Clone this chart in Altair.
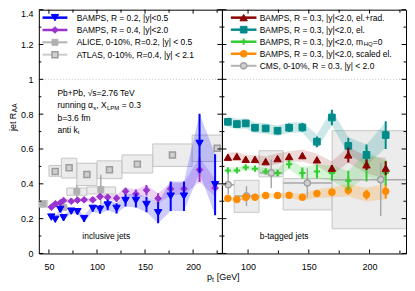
import altair as alt
import pandas as pd

# ---------------- data: inclusive jets (left panel) ----------------
incl_pt = [52.5, 56.6, 61.8, 65.2, 73.2, 79.7, 86.6, 95.6, 103.2, 111.1, 120.4,
           129.7, 140.5, 151.5, 163.6, 176.7, 190.5, 206.7, 222.9]
bamps_r02 = [0.209, 0.196, 0.253, 0.205, 0.243, 0.240, 0.200, 0.259, 0.253, 0.278, 0.259,
             0.304, 0.304, 0.281, 0.234, 0.329, 0.329, 0.632, 0.395]
bamps_r02_err = [0.010, 0.010, 0.015, 0.015, 0.015, 0.015, 0.020, 0.020, 0.025, 0.030, 0.030,
                 0.035, 0.040, 0.045, 0.060, 0.085, 0.085, 0.170, 0.175]
bamps_r04 = [0.266, 0.285, 0.291, 0.304, 0.300, 0.306, 0.308, 0.308, 0.327, 0.323, 0.317,
             0.357, 0.342, 0.363, 0.316, 0.371, 0.371, 0.481, 0.376]
bamps_r04_err = [0.010, 0.010, 0.010, 0.010, 0.010, 0.010, 0.012, 0.012, 0.015, 0.015, 0.020,
                 0.020, 0.025, 0.030, 0.030, 0.035, 0.035, 0.070, 0.050]

alice_pt = [44.0, 65.5, 79.0, 104.0]
alice_raa = [0.285, 0.265, 0.357, 0.367]
alice_err = [0.010, 0.010, 0.035, 0.085]
alice_sys_pt_lo = [40.0, 68.6, 89.3]
alice_sys_pt_hi = [48.7, 89.3, 119.4]
alice_sys_lo = [0.266, 0.334, 0.342]
alice_sys_hi = [0.304, 0.376, 0.382]

atlas_pt = [56.5, 71.0, 89.5, 113.0, 142.0, 178.5, 225.0]
atlas_raa = [0.471, 0.492, 0.454, 0.481, 0.513, 0.566, 0.604]
atlas_pt_lo = [50.0, 63.0, 79.0, 100.0, 126.0, 158.0, 199.0]
atlas_pt_hi = [63.0, 79.0, 100.0, 126.0, 158.0, 199.0, 251.0]
atlas_sys_lo = [0.443, 0.433, 0.390, 0.430, 0.462, 0.500, 0.528]
atlas_sys_hi = [0.505, 0.547, 0.518, 0.532, 0.566, 0.629, 0.680]

# ---------------- data: b-tagged jets (right panel) ----------------
b_pt = [83.4, 90.8, 98.1, 105.7, 114.5, 124.3, 133.8, 144.7, 156.7, 169.0, 182.5, 197.5, 213.3]
elrad = [0.553, 0.557, 0.541, 0.541, 0.528, 0.545, 0.557, 0.562, 0.538, 0.490, 0.566, 0.509, 0.490]
elrad_err = [0.010, 0.010, 0.010, 0.010, 0.010, 0.010, 0.012, 0.015, 0.015, 0.018, 0.043, 0.030, 0.040]
elrad_band = [0.025, 0.025, 0.025, 0.025, 0.030, 0.030, 0.030, 0.035, 0.035, 0.040, 0.045, 0.050, 0.060]
el = [0.756, 0.743, 0.747, 0.722, 0.718, 0.705, 0.722, 0.724, 0.642, 0.781, 0.618, 0.566, 0.680]
el_err = [0.020, 0.020, 0.020, 0.020, 0.020, 0.020, 0.025, 0.025, 0.030, 0.045, 0.047, 0.060, 0.080]
el_band = [0.030, 0.030, 0.030, 0.030, 0.030, 0.030, 0.030, 0.030, 0.040, 0.045, 0.050, 0.060, 0.075]
mhq0 = [0.477, 0.477, 0.494, 0.487, 0.471, 0.462, 0.513, 0.462, 0.471, 0.462, 0.418, 0.513, 0.462]
mhq0_err = [0.010, 0.010, 0.010, 0.010, 0.012, 0.015, 0.025, 0.032, 0.040, 0.045, 0.057, 0.100, 0.070]
mhq0_band = [0.015, 0.015, 0.015, 0.015, 0.020, 0.025, 0.030, 0.035, 0.040, 0.045, 0.055, 0.070, 0.070]
scaled = [0.316, 0.310, 0.323, 0.323, 0.333, 0.333, 0.334, 0.323, 0.344, 0.352, 0.363, 0.338, 0.357]
scaled_err = [0.008, 0.008, 0.008, 0.008, 0.008, 0.010, 0.010, 0.010, 0.012, 0.015, 0.024, 0.028, 0.043]
scaled_band = [0.010, 0.010, 0.010, 0.012, 0.012, 0.015, 0.015, 0.020, 0.025, 0.030, 0.035, 0.040, 0.045]

cms_pt = [83.7, 98.7, 119.1, 148.8, 209.2]
cms_raa = [0.395, 0.330, 0.462, 0.405, 0.424]
cms_stat_lo = [0.338, 0.272, 0.376, 0.320, 0.215]
cms_stat_hi = [0.462, 0.386, 0.538, 0.490, 0.520]
cms_pt_lo = [76.0, 89.0, 109.6, 128.9, 169.2]
cms_pt_hi = [88.6, 109.0, 128.6, 169.2, 250.0]
cms_sys_pt_lo = [88.6, 109.0, 128.9, 169.2]
cms_sys_pt_hi = [109.0, 128.9, 169.2, 250.0]
cms_sys_lo = [0.236, 0.440, 0.250, 0.142]
cms_sys_hi = [0.420, 0.590, 0.430, 0.705]

y_major = [0, 0.2, 0.4, 0.6, 0.8, 1.0, 1.2, 1.4]
y_minor = [0.1, 0.3, 0.5, 0.7, 0.9, 1.1, 1.3]
xl_major = [50, 100, 150, 200]
xl_minor = [75, 125, 175, 225]
xr_major = [100, 150, 200]
xr_minor = [125, 175, 225]

legend_left = ["BAMPS, R = 0.2, |y|<0.5", "BAMPS, R = 0.4, |y|<2.0",
               "ALICE, 0-10%, R=0.2, |y| < 0.5", "ATLAS, 0-10%, R=0.4, |y| < 2.1"]
legend_right = ["BAMPS, R = 0.3, |y|<2.0, el.+rad.", "BAMPS, R = 0.3, |y|<2.0, el.",
                "BAMPS, R = 0.3, |y|<2.0, m", "BAMPS, R = 0.3, |y|<2.0, scaled el.",
                "CMS, 0-10%, R = 0.3, |y| < 2.0"]

# ---------------- styling ----------------
FONT = "Liberation Sans"
H = 245
W_L = 184
W_R = 185
YS = alt.Scale(domain=[0, 1.4], nice=False, zero=False)

BLUE = "#0000ff"
PURPLE = "#9a32cd"
DRED = "#8b0000"
TEAL = "#008b8b"
GREEN = "#32cd32"
ORANGE = "#ff8c00"
GREY = "#a8a8a8"
PLUS = "M-1,0L1,0M0,-1L0,1"


def xaxis(vals):
    return alt.Axis(values=vals, format="d", title=None, ticks=False, tickSize=0, domain=False,
                    grid=False, labelPadding=9, labelFontSize=9, labelFont=FONT,
                    labelColor="black", labelFlush=False)


AY_L = alt.Axis(values=y_major, format="~g", title=None, ticks=False, tickSize=0, domain=False,
                grid=False, labelPadding=6, labelFontSize=9, labelFont=FONT, labelColor="black",
                labelBaseline={"condition": {"test": "datum.value > 1.35", "value": "top"},
                               "value": "middle"})

PL = {"xs": alt.Scale(domain=[39.5, 230], nice=False, zero=False), "ax": xaxis(xl_major),
      "ay": AY_L, "w": W_L}
PR = {"xs": alt.Scale(domain=[78.5, 230], nice=False, zero=False), "ax": xaxis(xr_major),
      "ay": None, "w": W_R}


def ex(f, P):
    return alt.X(f + ":Q", scale=P["xs"], axis=P["ax"])


def ey(f, P):
    return alt.Y(f + ":Q", scale=YS, axis=P["ay"])


def band(P, x, y, e, color, op):
    df = pd.DataFrame({"x": x, "lo": [a - b for a, b in zip(y, e)], "hi": [a + b for a, b in zip(y, e)]})
    return alt.Chart(df).mark_area(color=color, opacity=op).encode(
        x=ex("x", P), y=ey("lo", P), y2="hi:Q")


def vbars(P, x, lo, hi, color, sw):
    df = pd.DataFrame({"x": x, "lo": lo, "hi": hi})
    return alt.Chart(df).mark_rule(color=color, strokeWidth=sw, clip=True).encode(
        x=ex("x", P), y=ey("lo", P), y2="hi:Q")


def ebars(P, x, y, e, color, sw):
    return vbars(P, x, [a - b for a, b in zip(y, e)], [a + b for a, b in zip(y, e)], color, sw)


def hbars(P, x0, x1, y, color, sw):
    df = pd.DataFrame({"x0": x0, "x1": x1, "y": y})
    return alt.Chart(df).mark_rule(color=color, strokeWidth=sw, clip=True).encode(
        x=ex("x0", P), x2="x1:Q", y=ey("y", P))


def boxes(P, x0, x1, y0, y1):
    df = pd.DataFrame({"x0": x0, "x1": x1, "y0": y0, "y1": y1})
    return alt.Chart(df).mark_rect(fill="#d9d9d9", fillOpacity=0.5, stroke="#c6c6c6",
                                   strokeWidth=1, clip=True).encode(
        x=ex("x0", P), x2="x1:Q", y=ey("y0", P), y2="y1:Q")


def pts(P, x, y, shape, fill, stroke, size, sw=1.0, filled=True):
    df = pd.DataFrame({"x": x, "y": y})
    if filled:
        m = alt.Chart(df).mark_point(shape=shape, filled=True, fill=fill, stroke=stroke,
                                     strokeWidth=sw, size=size, opacity=1)
    else:
        m = alt.Chart(df).mark_point(shape=shape, filled=False, color=stroke,
                                     strokeWidth=sw, size=size, opacity=1)
    return m.encode(x=ex("x", P), y=ey("y", P))


def txt(s, x, y, size=8.5, align="left", angle=0):
    return alt.Chart(pd.DataFrame({"t": [s]})).mark_text(
        align=align, baseline="middle", fontSize=size, font=FONT, angle=angle, color="black"
    ).encode(x=alt.value(x), y=alt.value(y), text="t:N")


def ticks(P, xmaj, xmin):
    out = []
    W = P["w"]
    for vals, ln in ((y_major, 4.5), (y_minor, 2.5)):
        df = pd.DataFrame({"v": vals})
        out.append(alt.Chart(df).mark_rule(color="black", strokeWidth=1).encode(
            y=ey("v", P), x=alt.value(0), x2=alt.value(ln)))
        out.append(alt.Chart(df).mark_rule(color="black", strokeWidth=1).encode(
            y=ey("v", P), x=alt.value(W - ln), x2=alt.value(W)))
    for vals, ln in ((xmaj, 4), (xmin, 3)):
        df = pd.DataFrame({"v": vals})
        out.append(alt.Chart(df).mark_rule(color="black", strokeWidth=1).encode(
            x=ex("v", P), y=alt.value(H - ln), y2=alt.value(H)))
        out.append(alt.Chart(df).mark_rule(color="black", strokeWidth=1).encode(
            x=ex("v", P), y=alt.value(0), y2=alt.value(ln)))
    return out


def legend_row(label, py, x0, x1, lcolor, lw, shape, fill, stroke, size, sw=1.0, filled=True):
    one = pd.DataFrame({"t": [label]})
    line = alt.Chart(one).mark_rule(color=lcolor, strokeWidth=lw).encode(
        x=alt.value(x0), x2=alt.value(x1), y=alt.value(py))
    if filled:
        mk = alt.Chart(one).mark_point(shape=shape, filled=True, fill=fill, stroke=stroke,
                                       strokeWidth=sw, size=size, opacity=1)
    else:
        mk = alt.Chart(one).mark_point(shape=shape, filled=False, color=stroke,
                                       strokeWidth=sw, size=size, opacity=1)
    mk = mk.encode(x=alt.value((x0 + x1) / 2), y=alt.value(py))
    tx = txt(label, 38, py)
    return [line, mk, tx]


def yline(P):
    return alt.Chart(pd.DataFrame({"v": [1.0]})).mark_rule(
        color="#c0c0c0", strokeWidth=1, strokeDash=[1, 2]).encode(y=ey("v", P))


# ---------------- left panel ----------------
L = []
L.append(boxes(PL, atlas_pt_lo, atlas_pt_hi, atlas_sys_lo, atlas_sys_hi))
L.append(boxes(PL, alice_sys_pt_lo, alice_sys_pt_hi, alice_sys_lo, alice_sys_hi))
L.append(band(PL, incl_pt, bamps_r04, bamps_r04_err, PURPLE, 0.22))
L.append(band(PL, incl_pt, bamps_r02, bamps_r02_err, BLUE, 0.2))
L.append(yline(PL))
L.append(ebars(PL, alice_pt, alice_raa, alice_err, GREY, 1.5))
L.append(pts(PL, alice_pt, alice_raa, "square", "#b0b0b0", "#b0b0b0", 36))
L.append(pts(PL, atlas_pt, atlas_raa, "square", "#cfcfcf", "#9c9c9c", 36, 1.5))
L.append(ebars(PL, incl_pt, bamps_r04, bamps_r04_err, PURPLE, 2))
L.append(pts(PL, incl_pt, bamps_r04, "diamond", PURPLE, PURPLE, 45))
L.append(ebars(PL, incl_pt, bamps_r02, bamps_r02_err, BLUE, 2))
L.append(pts(PL, incl_pt, bamps_r02, "triangle-down", BLUE, BLUE, 55))
L += ticks(PL, xl_major, xl_minor)
lrow = [8 + 12.4 * i for i in range(4)]
L += legend_row(legend_left[0], lrow[0], 3.7, 28.7, BLUE, 2.5, "triangle-down", BLUE, BLUE, 55)
L += legend_row(legend_left[1], lrow[1], 3.7, 28.7, PURPLE, 2.5, "diamond", PURPLE, PURPLE, 45)
L += legend_row(legend_left[2], lrow[2], 3.7, 28.7, "#b4b4b4", 2, "square", "#b0b0b0", "#b0b0b0", 36)
L += legend_row(legend_left[3], lrow[3], 3.7, 28.7, "#cccccc", 2, "square", "#cfcfcf", "#9c9c9c", 36, 1.5)
# annotation block
ay0 = 84
L.append(txt("Pb+Pb, \u221as=2.76 TeV", 18.7, ay0))
L.append(txt("running \u03b1", 18.7, ay0 + 12.2))
L.append(txt("s", 54.6, ay0 + 12.2 + 2.5, 6))
L.append(txt(", X", 57.8, ay0 + 12.2))
L.append(txt("LPM", 68.4, ay0 + 12.2 + 2.5, 6))
L.append(txt("= 0.3", 83.4, ay0 + 12.2))
L.append(txt("b=3.6 fm", 18.7, ay0 + 24.4))
L.append(txt("anti k", 18.7, ay0 + 36.6))
L.append(txt("t", 39.2, ay0 + 36.6 + 2.5, 6))
L.append(txt("inclusive jets", 43.7, 227.7))
# y title
L.append(txt("jet R", -26, 103.5, 9, "right", 270))
L.append(txt("AA", -23.5, 103, 6.5, "left", 270))
left = alt.layer(*L).properties(width=W_L, height=H)

# ---------------- right panel ----------------
R = []
R.append(boxes(PR, cms_sys_pt_lo, cms_sys_pt_hi, cms_sys_lo, cms_sys_hi))
R.append(band(PR, b_pt, el, el_band, TEAL, 0.2))
R.append(band(PR, b_pt, elrad, elrad_band, DRED, 0.15))
R.append(band(PR, b_pt, mhq0, mhq0_band, GREEN, 0.2))
R.append(band(PR, b_pt, scaled, scaled_band, ORANGE, 0.22))
R.append(yline(PR))
R.append(vbars(PR, cms_pt, cms_stat_lo, cms_stat_hi, GREY, 1.5))
R.append(hbars(PR, cms_pt_lo, cms_pt_hi, cms_raa, GREY, 1.5))
R.append(pts(PR, cms_pt, cms_raa, "circle", "#cfcfcf", "#a0a0a0", 40, 1.5))
R.append(ebars(PR, b_pt, scaled, scaled_err, ORANGE, 2))
R.append(pts(PR, b_pt, scaled, "circle", ORANGE, ORANGE, 45))
R.append(ebars(PR, b_pt, mhq0, mhq0_err, GREEN, 2))
R.append(pts(PR, b_pt, mhq0, PLUS, GREEN, GREEN, 40, 2, filled=False))
R.append(ebars(PR, b_pt, el, el_err, TEAL, 2))
R.append(pts(PR, b_pt, el, "square", TEAL, TEAL, 45))
R.append(ebars(PR, b_pt, elrad, elrad_err, DRED, 2))
R.append(pts(PR, b_pt, elrad, "triangle-up", DRED, DRED, 55))
R += ticks(PR, xr_major, xr_minor)
rrow = [8 + 12.1 * i for i in range(5)]
R += legend_row(legend_right[0], rrow[0], 9, 34.7, DRED, 2.5, "triangle-up", DRED, DRED, 55)
R += legend_row(legend_right[1], rrow[1], 9, 34.7, TEAL, 2.5, "square", TEAL, TEAL, 45)
R += legend_row(legend_right[2], rrow[2], 9, 34.7, GREEN, 2.5, PLUS, GREEN, GREEN, 40, 2, filled=False)
R.append(txt("HQ", 142.5, rrow[2] + 2.5, 6))
R.append(txt("=0", 151.7, rrow[2]))
R += legend_row(legend_right[3], rrow[3], 9, 34.7, ORANGE, 2.5, "circle", ORANGE, ORANGE, 45)
R += legend_row(legend_right[4], rrow[4], 9, 34.7, "#b4b4b4", 2, "circle", "#cfcfcf", "#a0a0a0", 40, 1.5)
R.append(txt("b-tagged jets", 38, 227.7))
# x title
R.append(txt("p", -15, H + 24, 9))
R.append(txt("t", -10, H + 26.5, 6.5))
R.append(txt("[GeV]", -5.2, H + 24, 9))
right = alt.layer(*R).properties(width=W_R, height=H)

chart = alt.hconcat(left, right, spacing=0, bounds="flush").properties(
    padding={"left": 0, "top": 0, "right": 0, "bottom": 0},
    background="white",
).configure_view(stroke="#000000", strokeWidth=1)

chart.save("out.html", embed_options={"renderer": "svg", "actions": False})
